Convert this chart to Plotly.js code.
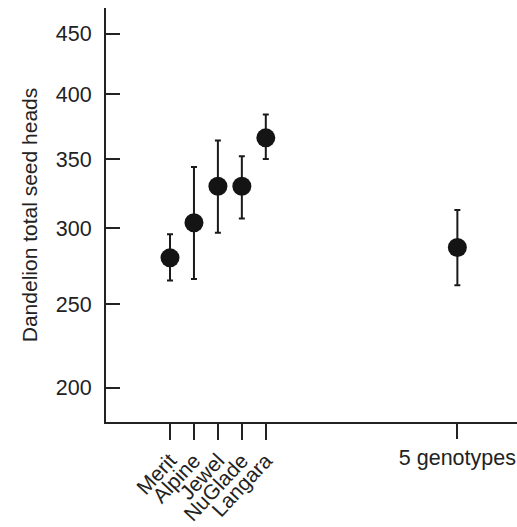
<!DOCTYPE html>
<html>
<head>
<meta charset="utf-8">
<script src="https://cdn.plot.ly/plotly-3.0.1.min.js"></script>
<style>html,body{margin:0;padding:0;background:#fff;}#chart{width:517px;height:527px;}</style>
</head>
<body>
<div id="chart"></div>
<script>
// Data (y axis is square-root scaled)
const genotypes = ["Merit", "Alpine", "Jewel", "NuGlade", "Langara"];
const genoX = [1, 2, 3, 4, 5];
const genoMean = [280, 304, 330, 330, 366];
const genoUpper = [296, 344, 364, 352, 384];
const genoLower = [265, 266, 297, 307, 350];

const mixLabel = ["5 genotypes"];
const mixX = [13];
const mixMean = [287];
const mixUpper = [313];
const mixLower = [262];

const yTicks = [200, 250, 300, 350, 400, 450];
const yRange = [181, 472];
const xRange = [-1.673, 15.49];

const s = v => Math.sqrt(v);
function errs(mean, up, lo) {
  return {
    type: "data", symmetric: false,
    array: mean.map((m, i) => s(up[i]) - s(m)),
    arrayminus: mean.map((m, i) => s(m) - s(lo[i])),
    color: "#1a1a1a", thickness: 2, width: 3
  };
}
const markerStyle = {size: 19, color: "#141414"};

const traces = [
  {x: genoX, y: genoMean.map(s), type: "scatter", mode: "markers",
   marker: markerStyle, error_y: errs(genoMean, genoUpper, genoLower),
   xaxis: "x", yaxis: "y", hoverinfo: "skip"},
  {x: mixX, y: mixMean.map(s), type: "scatter", mode: "markers",
   marker: markerStyle, error_y: errs(mixMean, mixUpper, mixLower),
   xaxis: "x2", yaxis: "y", hoverinfo: "skip"}
];

const font = {family: "Liberation Sans, Arial, sans-serif", size: 21, color: "#222"};
const layout = {
  width: 517, height: 527,
  margin: {l: 106, r: 0, t: 8, b: 105},
  paper_bgcolor: "#fff", plot_bgcolor: "#fff",
  showlegend: false,
  font: font,
  xaxis: {
    range: xRange, showgrid: false, zeroline: false,
    showline: true, linecolor: "#222", linewidth: 2,
    ticks: "outside", ticklen: 16, tickwidth: 2, tickcolor: "#222",
    tickmode: "array", tickvals: genoX, ticktext: genotypes,
    tickangle: -47, tickfont: {size: 21}
  },
  xaxis2: {
    range: xRange, overlaying: "x", anchor: "y", side: "bottom",
    showgrid: false, zeroline: false, showline: false,
    ticks: "outside", ticklen: 16, tickwidth: 2, tickcolor: "#222",
    tickmode: "array", tickvals: mixX, ticktext: mixLabel,
    tickangle: 0, tickfont: {size: 21.5}
  },
  yaxis: {
    range: yRange.map(s), showgrid: false, zeroline: false,
    showline: true, linecolor: "#222", linewidth: 2,
    ticks: "inside", ticklen: 14, tickwidth: 2, tickcolor: "#222",
    tickmode: "array", tickvals: yTicks.map(s), ticktext: yTicks.map(String),
    tickfont: {size: 21.5}, ticklabelstandoff: 8,
    title: {text: "Dandelion total seed heads", font: {size: 21}, standoff: 12}
  }
};
Plotly.newPlot("chart", traces, layout, {displayModeBar: false, staticPlot: true});
</script>
</body>
</html>
